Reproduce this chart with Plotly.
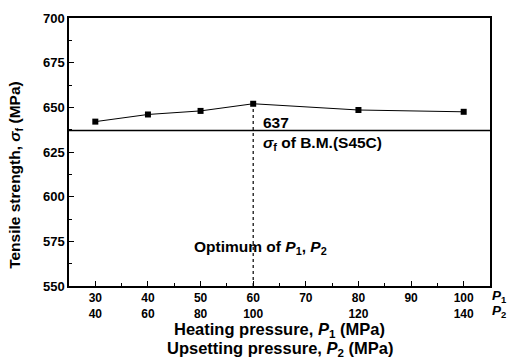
import plotly.graph_objects as go

# Data
p1 = [30, 40, 50, 60, 80, 100]
strength = [642, 646, 648, 652, 648.5, 647.5]
base_metal = 637
optimum_p1 = 60
tick_p1 = [30, 40, 50, 60, 70, 80, 90, 100]
tick_p2 = ["40", "60", "80", "100", "", "120", "", "140"]
y_ticks = [550, 575, 600, 625, 650, 675, 700]

FONT = "Liberation Sans, Arial, sans-serif"

ticktext = [f"{a}<br>{b}" if b else f"{a}" for a, b in zip(tick_p1, tick_p2)]

fig = go.Figure()
fig.add_trace(go.Scatter(
    x=p1, y=strength, mode="lines+markers",
    line=dict(color="black", width=1),
    marker=dict(symbol="square", size=6, color="black"),
    showlegend=False,
))

# base metal line
fig.add_shape(type="line", xref="x", yref="y", x0=25, x1=105,
              y0=base_metal, y1=base_metal, line=dict(color="black", width=1.5))
# optimum dotted line
fig.add_shape(type="line", xref="x", yref="y", x0=optimum_p1, x1=optimum_p1,
              y0=550, y1=strength[3], line=dict(color="black", width=1.2, dash="dot"))

ann_font = dict(family=FONT, size=15.5, color="black", weight="bold")
fig.add_annotation(x=61.4, y=base_metal, xref="x", yref="y", text="637",
                   showarrow=False, xanchor="left", yanchor="bottom", font=ann_font, yshift=-2)
fig.add_annotation(x=61.4, y=base_metal, xref="x", yref="y",
                   text="<i>σ</i><sub>f</sub> of B.M.(S45C)",
                   showarrow=False, xanchor="left", yanchor="top", font=ann_font, yshift=-1)
fig.add_annotation(x=61.4, y=571.5, xref="x", yref="y",
                   text="Optimum of <i>P</i><sub>1</sub>, <i>P</i><sub>2</sub>",
                   showarrow=False, xanchor="center", yanchor="middle", font=ann_font)

# right-side axis labels
pfont = dict(family=FONT, size=13.5, color="black", weight="bold")
fig.add_annotation(x=1.022, y=-0.038, xref="paper", yref="paper", text="<i>P</i><sub>1</sub>",
                   showarrow=False, xanchor="center", yanchor="middle", font=pfont,
                   borderpad=0)
fig.add_annotation(x=1.022, y=-0.096, xref="paper", yref="paper", text="<i>P</i><sub>2</sub>",
                   showarrow=False, xanchor="center", yanchor="middle", font=pfont,
                   borderpad=0)

# axis titles
title_font = dict(family=FONT, size=16.5, color="black", weight="bold")
fig.add_annotation(x=0.5, y=-0.1636, xref="paper", yref="paper",
                   text="Heating pressure, <i>P</i><sub>1</sub> (MPa)",
                   showarrow=False, xanchor="center", yanchor="middle", font=title_font)
fig.add_annotation(x=0.5, y=-0.2364, xref="paper", yref="paper",
                   text="Upsetting pressure, <i>P</i><sub>2</sub> (MPa)",
                   showarrow=False, xanchor="center", yanchor="middle", font=title_font)
fig.add_annotation(x=-0.126, y=0.4145, xref="paper", yref="paper",
                   text="Tensile strength, <i>σ</i><sub>f</sub> (MPa)", textangle=-90,
                   showarrow=False, xanchor="center", yanchor="middle",
                   font=dict(family=FONT, size=15.5, color="black", weight="bold"))

axis_common = dict(showline=True, linecolor="black", linewidth=1.5, mirror=True,
                   ticks="inside", tickcolor="black", ticklen=5, tickwidth=1,
                   showgrid=False, zeroline=False)

fig.update_xaxes(range=[25, 105], tickvals=tick_p1, ticktext=ticktext,
                 tickfont=dict(family=FONT, size=12, color="black", weight="bold"),
                 minor=dict(dtick=5, tick0=25, ticks="inside", ticklen=3, tickcolor="black"),
                 **axis_common)
fig.update_yaxes(range=[550, 700], tickvals=y_ticks,
                 tickfont=dict(family=FONT, size=13, color="black", weight="bold"),
                 minor=dict(dtick=12.5, tick0=550, ticks="inside", ticklen=3, tickcolor="black"),
                 **axis_common)

fig.update_layout(width=507, height=362, margin=dict(l=69, r=17, t=11, b=76),
                  plot_bgcolor="white", paper_bgcolor="white",
                  font=dict(family=FONT, color="black"))

# remove the default 8px page margin so the figure fills the window exactly
fig.write_html("out.html", config={"displayModeBar": False},
               post_script="document.body.style.margin='0';")
